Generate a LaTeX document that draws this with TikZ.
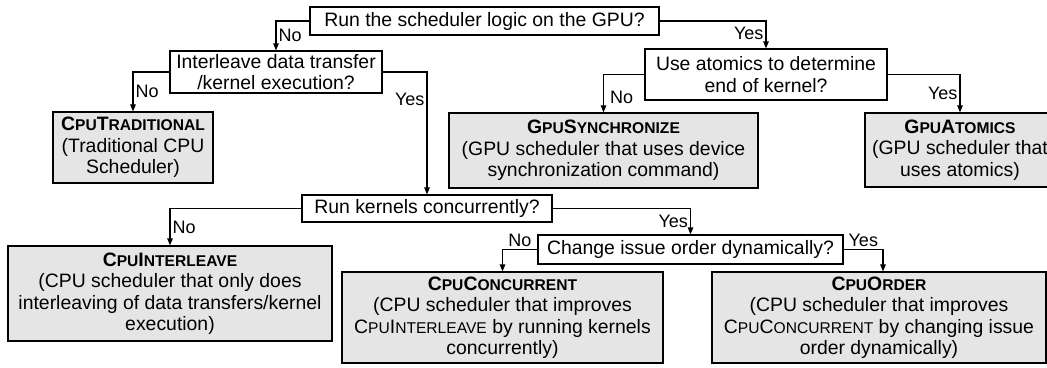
\documentclass[tikz,border=0pt]{standalone}
\usepackage{fontspec}
\setmainfont{Liberation Sans}
\usetikzlibrary{arrows.meta}
% hand-made small capitals for the scheduler names
\newcommand\smallcap[1]{{\fontsize{15.6pt}{21.5pt}\selectfont #1}}
\newcommand\bodyfont{\fontsize{19.4pt}{21.5pt}\selectfont}
\newcommand\answerfont{\fontsize{18pt}{18pt}\selectfont}

\begin{document}
\begin{tikzpicture}[x=1pt,y=-1pt,
  question/.style={draw, line width=1.2pt, fill=white, align=center,
    inner sep=0pt, font=\bodyfont},
  outcome/.style={question, fill=black!10},
  link/.style={line width=1.2pt, -{Triangle[length=7pt,width=5.5pt]}},
  answer/.style={font=\answerfont, inner sep=2pt}
]
\useasboundingbox (0,0) rectangle (1047,367);

% decision boxes
\node[question, minimum width=349pt, minimum height=28pt] (gpu) at (484.5,21)
  {Run the scheduler logic on the GPU?};
\node[question, minimum width=212pt, minimum height=42pt] (inter) at (276,72)
  {Interleave data transfer\\/kernel execution?};
\node[question, minimum width=242pt, minimum height=51pt] (atom) at (766,74.5)
  {Use atomics to determine\\end of kernel?};
\node[question, minimum width=250pt, minimum height=27pt] (conc) at (427,208.5)
  {Run kernels concurrently?};
\node[question, minimum width=305pt, minimum height=29pt] (order) at (690.5,249.5)
  {Change issue order dynamically?};

% resulting schedulers
\node[outcome, minimum width=160pt, minimum height=71pt] (trad) at (133,147.5)
  {\textbf{C\smallcap{PU}T\smallcap{RADITIONAL}}\\(Traditional CPU\\Scheduler)};
\node[outcome, minimum width=309pt, minimum height=75pt] (sync) at (603.5,150.5)
  {\textbf{G\smallcap{PU}S\smallcap{YNCHRONIZE}}\\(GPU scheduler that uses device\\synchronization command)};
\node[outcome, minimum width=190pt, minimum height=74pt] (atomics) at (960,150)
  {\textbf{G\smallcap{PU}A\smallcap{TOMICS}}\\(GPU scheduler that\\uses atomics)};
\node[outcome, minimum width=324pt, minimum height=95pt] (cinter) at (170,293.5)
  {\textbf{C\smallcap{PU}I\smallcap{NTERLEAVE}}\\(CPU scheduler that only does\\interleaving of data transfers/kernel\\execution)};
\node[outcome, minimum width=321pt, minimum height=91pt] (cconc) at (502.5,317.5)
  {\textbf{C\smallcap{PU}C\smallcap{ONCURRENT}}\\(CPU scheduler that improves\\C\smallcap{PU}I\smallcap{NTERLEAVE} by running kernels\\concurrently)};
\node[outcome, minimum width=334pt, minimum height=91pt] (corder) at (879,317.5)
  {\textbf{C\smallcap{PU}O\smallcap{RDER}}\\(CPU scheduler that improves\\C\smallcap{PU}C\smallcap{ONCURRENT} by changing issue\\order dynamically)};

% connectors
\draw[link] (gpu.west) -| node[answer, pos=0.75, right] {No} (inter.north);
\draw[link] (gpu.east) -| node[answer, pos=0.72, left] {Yes} (atom.north);
\draw[link] (inter.west) -| node[answer, pos=0.75, right] {No} (trad.north);
\draw[link] (inter.east) -| node[answer, pos=0.61, left] {Yes} (conc.north);
\draw[link] (atom.west) -| node[answer, pos=0.8, right, xshift=4pt] {No} (sync.north);
\draw[link] (atom.east) -| node[answer, pos=0.75, left] {Yes} (atomics.north);
\draw[link] (conc.west) -| node[answer, pos=0.75, right] {No} (cinter.north);
\draw[link] (conc.east) -| node[answer, pos=0.75, left] {Yes} (order.north);
\draw[link] (order.west) -| node[answer, pos=0.25, above] {No} (cconc.north);
\draw[link] (order.east) -| node[answer, pos=0.25, above] {Yes} ([xshift=4pt]corder.north);
\end{tikzpicture}
\end{document}
